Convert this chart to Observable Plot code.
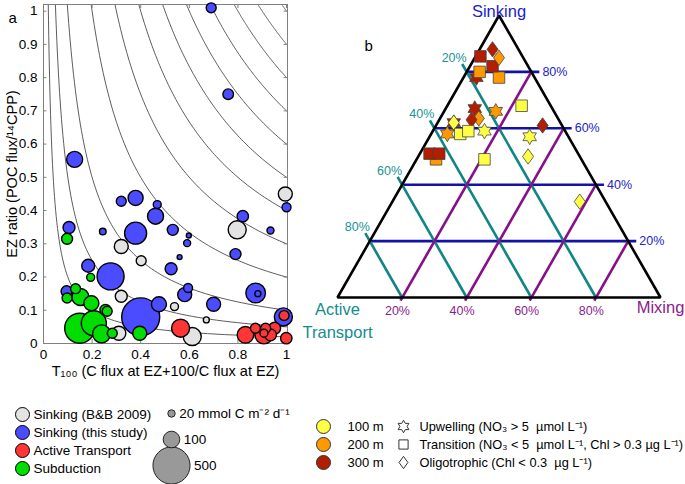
<!DOCTYPE html>
<html><head><meta charset="utf-8">
<script src="https://cdn.jsdelivr.net/npm/d3@7"></script>
<script src="https://cdn.jsdelivr.net/npm/@observablehq/plot@0.6"></script>
<style>
body{margin:0;background:#fff;}
#chart{position:relative;width:685px;height:484px;background:#fff;}
#chart svg{position:absolute;overflow:visible;}
</style></head><body><div id="chart"></div>
<script>
// ---------- Panel a data: [T100, EZ ratio, flux (mmol C m-2 d-1)] ----------
const sinkingBB = [
  [0.995,0.45,71],[0.797,0.342,118],[0.32,0.292,71],[0.402,0.249,36],[0.32,0.142,52],
  [0.539,0.111,23],[0.67,0.071,13],[0.31,0.031,71],[0.612,0.021,118]
];
const sinkingThisStudy = [
  [0.69,1.01,36],[0.76,0.75,41],[0.128,0.554,93],[1.0,0.41,29],[0.32,0.428,36],[0.379,0.438,82],
  [0.468,0.418,23],[0.461,0.383,93],[0.105,0.349,52],[0.244,0.337,16],[0.379,0.332,176],[0.532,0.342,44],
  [0.598,0.325,9],[0.591,0.302,18],[0.56,0.26,9],[0.82,0.383,47],[0.934,0.34,18],[0.79,0.269,44],
  [0.184,0.234,61],[0.276,0.202,265],[0.525,0.225,52],[0.581,0.147,71],[0.595,0.167,29],[0.70,0.118,71],
  [0.873,0.152,140],[0.882,0.15,13],[0.095,0.157,44],[0.475,0.118,82],[0.40,0.08,524],[0.987,0.08,118]
];
const activeTransport = [
  [0.99,0.084,36],[0.564,0.046,118],[0.831,0.026,100],[0.872,0.046,36],[0.907,0.026,118],
  [0.914,0.046,36],[0.907,0.031,23],[0.951,0.046,52],[0.934,0.026,52],[0.999,0.016,47]
];
const subduction = [
  [0.097,0.315,44],[0.194,0.199,23],[0.132,0.165,36],[0.097,0.137,36],[0.152,0.14,105],[0.197,0.121,82],
  [0.255,0.101,44],[0.262,0.097,36],[0.149,0.046,327],[0.207,0.061,227],[0.239,0.029,118],[0.283,0.031,36],
  [0.396,0.031,71]
];
const categories = ["Sinking (B&B 2009)","Sinking (this study)","Active Transport","Subduction"];
const categoryColors = ["#e3e3e3","#4b4bff","#ff3636","#00dd00"];
const contourLevels = [0.02,0.05,0.1,0.2,0.3,0.4,0.5,0.6,0.7,0.8,0.9,1.0];
const xTicks = [0,0.2,0.4,0.6,0.8,1];
const yTicks = [0,0.1,0.2,0.3,0.4,0.5,0.6,0.7,0.8,0.9,1];
const sizeLegend = [20,100,500];

// ---------- Panel b data (ternary, %) ----------
const ternDepth  = [300,200,200,300,300,200,300,300,300,200,100,200,300,100,300,200,100,100,100,100,100,200,300,300,100,100];
const ternRegion = ["Upwelling","Transition","Transition","Transition","Transition","Oligotrophic","Oligotrophic",
  "Upwelling","Upwelling","Upwelling","Transition","Oligotrophic","Oligotrophic","Oligotrophic","Oligotrophic",
  "Upwelling","Transition","Transition","Upwelling","Upwelling","Oligotrophic","Transition","Transition","Transition",
  "Transition","Oligotrophic"];
const ternSinking = [78,80,78,85.5,82,85,88,67,62,66,68,63.5,63,62,61,58,58,59,59,57,50,49,51,51,49,34];
const ternActive  = [18,16,11,13,11,7.5,8,24,33,18,9,24.5,27,33,6,37,33,30,25,12,16,45,46,43,30,8];
const ternMixing  = [4,4,11,1.5,7,7.5,4,9,5,16,23,12,10,5,33,5,9,11,16,31,34,6,3,6,21,58];
const depthLevels = [100,200,300];
const depthColors = ["#ffff45","#ff9900","#b31d00"];
const regions = ["Upwelling","Transition","Oligotrophic"];
const regionLabels = ["Upwelling (NO₃ > 5  µmol L⁻¹)","Transition (NO₃ < 5  µmol L⁻¹, Chl > 0.3 µg L⁻¹)","Oligotrophic (Chl < 0.3  µg L⁻¹)"];
const gridLevels = [0.2,0.4,0.6,0.8];

// ---------- helpers ----------
const font = '"Liberation Sans", Arial, Helvetica, sans-serif';
const fmt = d3.format("~g");
const pct = d => Math.round(d*100) + "%";
const rScale = {type:"sqrt", domain:[0,100], range:[0,8.3]};
const rOf = v => 8.3*Math.sqrt(v/100);
const colorScale = {type:"ordinal", domain:categories, range:categoryColors};

const bubbles = d3.sort([
  ...sinkingBB.map(d => ({x:d[0], y:d[1], flux:d[2], cat:categories[0]})),
  ...sinkingThisStudy.map(d => ({x:d[0], y:d[1], flux:d[2], cat:categories[1]})),
  ...activeTransport.map(d => ({x:d[0], y:d[1], flux:d[2], cat:categories[2]})),
  ...subduction.map(d => ({x:d[0], y:d[1], flux:d[2], cat:categories[3]}))
], (a,b) => b.flux - a.flux);

const yTop = 1.02;
const contours = contourLevels.flatMap(c => {
  const x0 = c / yTop, n = 80;
  return d3.range(n + 1).map(i => { const x = x0 * Math.pow(1 / x0, i / n); return {c, x, y: c / x}; });
});

const chart = document.getElementById("chart");
function place(svg, left, top){ svg.style.left = left + "px"; svg.style.top = top + "px"; chart.appendChild(svg); }

// ---------- Panel a ----------
const plotA = Plot.plot({
  width:300, height:385, marginLeft:43, marginRight:13, marginTop:4, marginBottom:42,
  style:{fontFamily:font, fontSize:"13px", background:"none", color:"#000"},
  x:{domain:[0,1.004]}, y:{domain:[0,yTop]},
  r: rScale, color: colorScale,
  marks:[
    Plot.line(contours, {x:"x", y:"y", z:"c", stroke:"#333", strokeWidth:0.8, clip:true}),
    Plot.frame({stroke:"#808080", strokeWidth:1}),
    Plot.ruleX(xTicks, {x:d=>d, y1:0, y2:0.012, stroke:"#808080"}),
    Plot.ruleX(xTicks, {x:d=>d, y1:yTop, y2:yTop-0.012, stroke:"#808080"}),
    Plot.ruleY(yTicks, {y:d=>d, x1:0, x2:0.014, stroke:"#808080"}),
    Plot.ruleY(yTicks, {y:d=>d, x1:1.004, x2:0.99, stroke:"#808080"}),
    Plot.axisX({ticks:xTicks, tickSize:0, tickPadding:6, tickFormat:fmt, fontSize:13.5, label:null}),
    Plot.axisY({ticks:yTicks, tickSize:0, tickPadding:6, tickFormat:fmt, fontSize:13.5, label:null}),
    Plot.dot(bubbles, {x:"x", y:"y", r:"flux", fill:"cat", stroke:"#000", strokeWidth:1.4}),
    Plot.text(["EZ ratio (POC flux/¹⁴CPP)"], {frameAnchor:"left", textAnchor:"middle", rotate:-90, dx:-31, fontSize:14.5}),
    Plot.text(["T₁₀₀ (C flux at EZ+100/C flux at EZ)"], {frameAnchor:"bottom", textAnchor:"middle", dy:32, fontSize:14.5}),
    Plot.text(["a"], {frameAnchor:"top-left", textAnchor:"start", dx:-35, dy:8, fontSize:15})
  ]
});
place(plotA, 0, 0);

// Panel a legends
const legA = Plot.plot({
  width:150, height:90, margin:0,
  style:{fontFamily:font, fontSize:"13px", background:"none", color:"#000"},
  y:{type:"point", domain:categories, range:[18,74], padding:0, axis:null},
  color: colorScale,
  marks:[
    Plot.dot(categories, {y:d=>d, fill:d=>d, r:7, stroke:"#000", strokeWidth:1, frameAnchor:"left", dx:22}),
    Plot.text(categories, {y:d=>d, text:d=>d, frameAnchor:"left", dx:33, textAnchor:"start", fontSize:13.5})
  ]
});
place(legA, 0, 395);

const legSize = Plot.plot({
  width:135, height:90, margin:0,
  style:{fontFamily:font, fontSize:"13px", background:"none", color:"#000"},
  y:{type:"point", domain:sizeLegend, range:[18,70], padding:0, axis:null},
  r: rScale,
  marks:[
    Plot.dot(sizeLegend, {y:d=>d, r:d=>d, fill:"#999", stroke:"#222", strokeWidth:1, frameAnchor:"left", dx:21}),
    ...sizeLegend.map((s,i) => Plot.text([s], {y:d=>d, text:d => i===0 ? d + " mmol C m⁻² d⁻¹" : String(d),
      frameAnchor:"left", dx:21 + rOf(s) + 4, textAnchor:"start", fontSize:13.5}))
  ]
});
place(legSize, 150, 395);

// ---------- Panel b ----------
const hexagram = {draw(ctx, size){
  const r = Math.sqrt(size/Math.PI), R = r*1.2, ri = R*0.577;
  for (let k = 0; k < 12; k++){
    const a = Math.PI/6*k - Math.PI/2, rad = k % 2 ? ri : R;
    const x = rad*Math.cos(a), y = rad*Math.sin(a);
    k ? ctx.lineTo(x,y) : ctx.moveTo(x,y);
  }
  ctx.closePath();
}};
const diamondTall = {draw(ctx, size){
  const r = Math.sqrt(size/Math.PI), w = r*0.85, h = r*1.18;
  ctx.moveTo(0,-h); ctx.lineTo(w,0); ctx.lineTo(0,h); ctx.lineTo(-w,0); ctx.closePath();
}};
const symbolScale = {domain:regions, range:[hexagram, d3.symbolSquare, diamondTall]};
const depthScale = {type:"ordinal", domain:depthLevels, range:depthColors};

const tern = ternDepth.map((d,i) => ({depth:d, region:ternRegion[i], S:ternSinking[i], A:ternActive[i], M:ternMixing[i]}));
const tx = d => { const s = d.S + d.A + d.M; return d.M/s + d.S/s/2; };
const ty = d => { const s = d.S + d.A + d.M; return d.S/s; };

const vertices = [{S:1,A:0,M:0},{S:0,A:1,M:0},{S:0,A:0,M:1}];
const blueC = "#1212a6", tealC = "#0f8585", purpleC = "#870f87";

const plotB = Plot.plot({
  width:385, height:345, marginLeft:37, marginRight:25, marginTop:15, marginBottom:48,
  style:{fontFamily:font, fontSize:"12.5px", background:"none", color:"#000"},
  x:{domain:[0,1], axis:null}, y:{domain:[0,1], axis:null},
  color: depthScale, symbol: symbolScale,
  marks:[
    Plot.link(gridLevels, {x1:s=>s/2, y1:s=>s, x2:s=>1-s/2+0.025, y2:s=>s, stroke:blueC, strokeWidth:2.6}),
    Plot.link(gridLevels, {x1:a=>(1-a)/2-0.014, y1:a=>1-a+0.028, x2:a=>1-a, y2:0, stroke:tealC, strokeWidth:2.6}),
    Plot.link(gridLevels, {x1:m=>m-0.005, y1:-0.011, x2:m=>(1+m)/2, y2:m=>1-m, stroke:purpleC, strokeWidth:2.6}),
    Plot.line(vertices, {x:tx, y:ty, curve:"linear-closed", stroke:"#000", strokeWidth:2.6, strokeLinejoin:"miter"}),
    Plot.text(gridLevels, {x:s=>1-s/2+0.025, y:s=>s, text:pct, textAnchor:"start", dx:3, fill:"#2323c8", fontSize:12.5}),
    Plot.text(gridLevels, {x:m=>m-0.005, y:-0.011, text:pct, dx:-3, dy:10, fill:"#8b1c8b", fontSize:12.5}),
    Plot.text(gridLevels, {x:a=>(1-a)/2-0.014, y:a=>1-a+0.028, text:pct, dx:-8, dy:-6, fill:"#1a9393", fontSize:12.5}),
    Plot.text([vertices[0]], {x:tx, y:ty, text:()=>"Sinking", lineAnchor:"bottom", dy:1, fill:"#1c1ccc", fontSize:16.5}),
    Plot.text([vertices[1]], {x:tx, y:ty, text:()=>"Active\nTransport", lineAnchor:"top", dy:2, lineHeight:1.35, fill:"#138d8d", fontSize:16.5}),
    Plot.text([vertices[2]], {x:tx, y:ty, text:()=>"Mixing", lineAnchor:"middle", dy:10, fill:"#8b1c8b", fontSize:16.5}),
    Plot.dot(tern, {x:tx, y:ty, fill:"depth", symbol:"region", r:6.5, stroke:"#444", strokeWidth:0.8}),
    Plot.text(["b"], {frameAnchor:"top-left", textAnchor:"start", dx:27, dy:25, fontSize:15})
  ]
});
place(plotB, 300, 0);

// Panel b legend
const legB = Plot.plot({
  width:385, height:65, margin:0,
  style:{fontFamily:font, fontSize:"13px", background:"none", color:"#000"},
  y:{type:"point", domain:[0,1,2], range:[16,52], padding:0, axis:null},
  color: depthScale, symbol: symbolScale,
  marks:[
    Plot.dot(depthLevels, {y:(d,i)=>i, fill:d=>d, r:7, stroke:"#333", strokeWidth:1, frameAnchor:"left", dx:23}),
    Plot.text(depthLevels, {y:(d,i)=>i, text:d=>d + " m", frameAnchor:"left", dx:47, textAnchor:"start", fontSize:13}),
    Plot.dot(regions, {y:(d,i)=>i, symbol:d=>d, r:5.2, fill:"white", stroke:"#333", strokeWidth:1, frameAnchor:"left", dx:103}),
    Plot.text(regionLabels, {y:(d,i)=>i, text:d=>d, frameAnchor:"left", dx:119, textAnchor:"start", fontSize:12.8})
  ]
});
place(legB, 300, 410);
</script></body></html>
